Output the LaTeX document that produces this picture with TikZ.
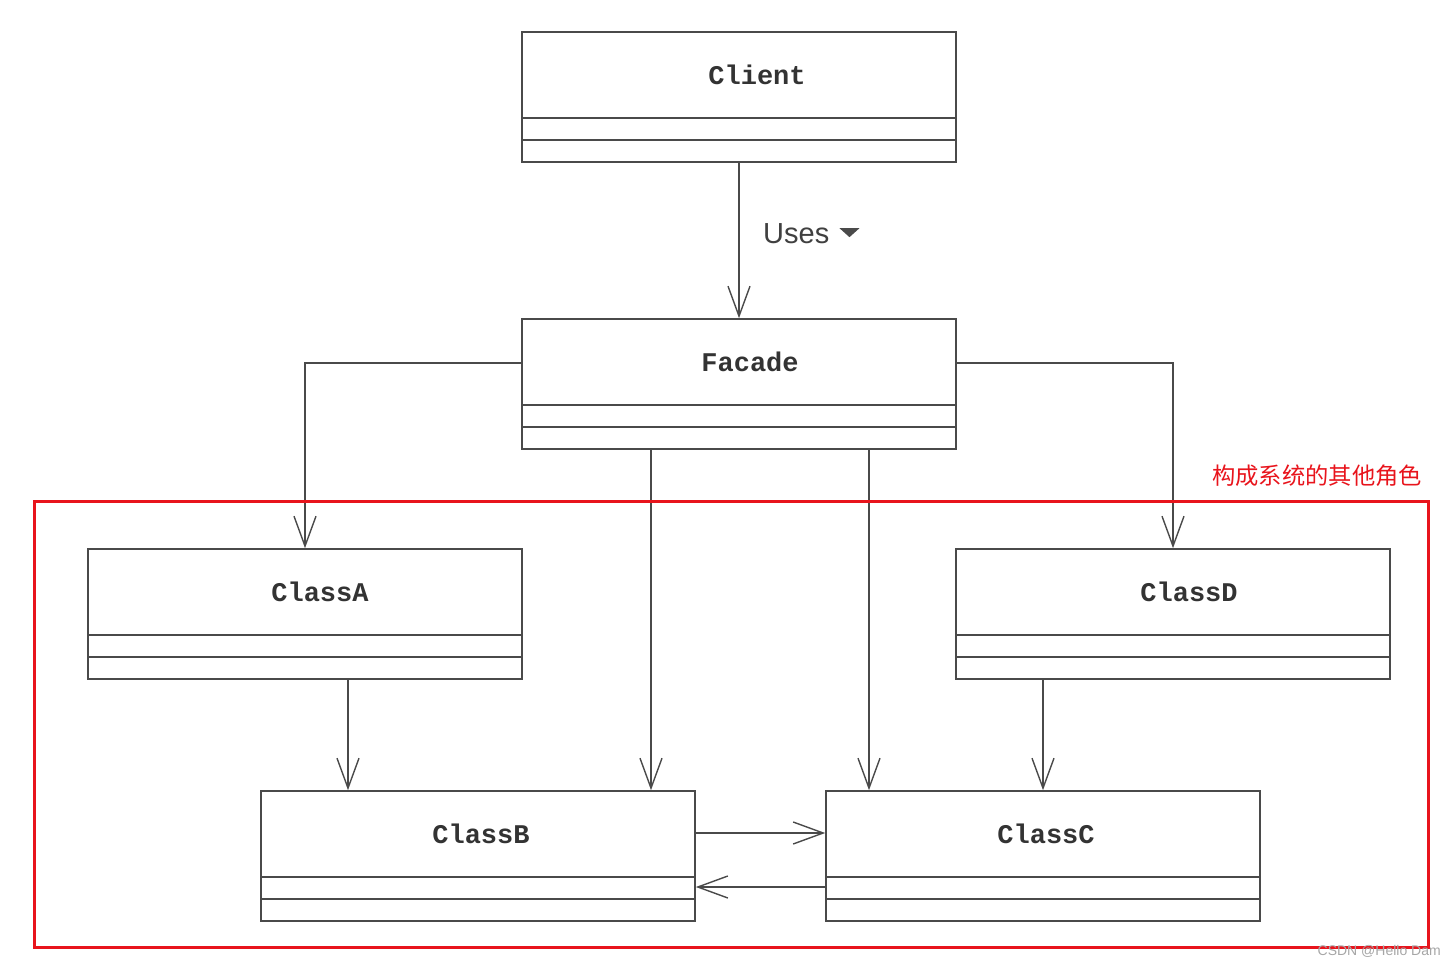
\documentclass[tikz,border=0pt]{standalone}
\usepackage{fontspec}
\setmainfont{Liberation Sans}
\newfontfamily\classfont{Liberation Mono}
\newfontfamily\cjkfont{Noto Sans CJK SC}
\usetikzlibrary{arrows.meta}
\definecolor{ink}{HTML}{4A4A4A}
\definecolor{frame}{HTML}{E8141C}
\tikzset{
  classbox/.style={draw=ink, line width=1.6pt, minimum width=434pt, minimum height=130pt, inner sep=0pt},
  compartment/.style={draw=ink, line width=1.6pt},
  classname/.style={font=\classfont\bfseries\fontsize{27}{27}\selectfont, text=black!80, inner sep=0pt},
  assoc/.style={draw=ink, line width=1.4pt, -{Straight Barb[length=30pt, width=22pt, line width=1.4pt]}},
}
\begin{document}
\begin{tikzpicture}[x=1pt, y=-1pt]
\useasboundingbox (0,0) rectangle (1456,966);

% class boxes: name / left x / top y / label / label x offset
\foreach \n/\x/\y/\lab/\dx in {client/522/32/Client/18, facade/522/319/Facade/11,
    classA/88/549/ClassA/15, classD/956/549/ClassD/16,
    classB/261/791/ClassB/3, classC/826/791/ClassC/3}{
  \node[classbox] (\n) at (\x+217, \y+65) {};
  \draw[compartment] ([yshift=-87pt]\n.north west) -- ([yshift=-87pt]\n.north east);
  \draw[compartment] ([yshift=-109pt]\n.north west) -- ([yshift=-109pt]\n.north east);
  \node[classname] (\n-name) at ([xshift=\dx pt, yshift=-44pt]\n.north) {\lab};
}

% Client uses Facade
\draw[assoc] (client.south) -- (facade.north);
\node[anchor=base west, inner sep=0pt, text=black!75, font=\fontsize{29}{29}\selectfont] (uses) at (763,243) {Uses};
\fill[ink] ([xshift=10pt, yshift=5pt]uses.east) -- ++(20,0) -- ++(-10,9) -- cycle;

% Facade to the subsystem classes
\draw[assoc] ([yshift=21pt]facade.west) -| (classA.north);
\draw[assoc] ([yshift=21pt]facade.east) -| (classD.north);
\draw[assoc] ([xshift=-88pt]facade.south) -- ([xshift=-88pt]facade.south |- classB.north);
\draw[assoc] ([xshift=130pt]facade.south) -- ([xshift=130pt]facade.south |- classC.north);

% associations inside the subsystem
\draw[assoc] ([xshift=43pt]classA.south) -- ([xshift=43pt]classA.south |- classB.north);
\draw[assoc] ([xshift=-130pt]classD.south) -- ([xshift=-130pt]classD.south |- classC.north);
\draw[assoc] ([yshift=23pt]classB.east) -- ([yshift=23pt]classB.east -| classC.west);
\draw[assoc] ([yshift=-31pt]classC.west) -- ([yshift=-31pt]classC.west -| classB.east);

% subsystem frame
\draw[frame, line width=3pt] (34,501) rectangle (1428,947);
\node[anchor=west, inner sep=0pt, text=frame, font=\cjkfont\fontsize{23.3}{23.3}\selectfont] (roles) at (1212,476) {构成系统的其他角色};

% watermark
\node[anchor=east, inner sep=0pt, text=black!35, font=\fontsize{14}{14}\selectfont] (mark) at (1441,951) {CSDN @Hello Dam};
\end{tikzpicture}
\end{document}
